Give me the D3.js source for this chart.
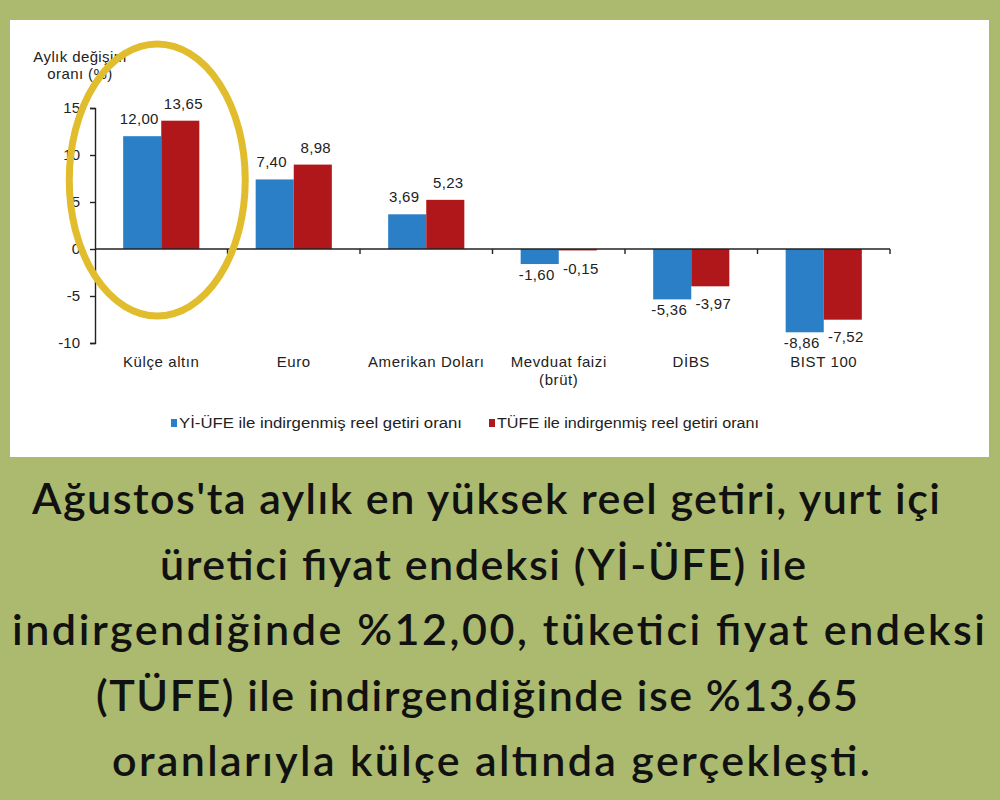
<!DOCTYPE html>
<html>
<head>
<meta charset="utf-8">
<script src="https://cdn.jsdelivr.net/npm/d3@7"></script>
<style>
  body { margin: 0; background: #abba6e; }
  svg { display: block; }
</style>
</head>
<body>
<svg id="chart" width="1000" height="800"></svg>
<script>
// data
var categories = ["Külçe altın", "Euro", "Amerikan Doları", "Mevduat faizi\n(brüt)", "DİBS", "BIST 100"];
var yiufe = [12.00, 7.40, 3.69, -1.60, -5.36, -8.86];
var tufe  = [13.65, 8.98, 5.23, -0.15, -3.97, -7.52];
var seriesNames = ["Yİ-ÜFE ile indirgenmiş reel getiri oranı", "TÜFE ile indirgenmiş reel getiri oranı"];
var yTicks = [-10, -5, 0, 5, 10, 15];
var captionLines = [
  "Ağustos'ta aylık en yüksek reel getiri, yurt içi",
  "üretici fiyat endeksi (Yİ-ÜFE) ile",
  "indirgendiğinde %12,00, tüketici fiyat endeksi",
  "(TÜFE) ile indirgendiğinde ise %13,65",
  "oranlarıyla külçe altında gerçekleşti."
];

var colors = ["#2a7fc7", "#b0171b"];
var fmt = function(v) { return v.toFixed(2).replace(".", ","); };
var FONT = "'Liberation Sans', Arial, sans-serif";

var svg = d3.select("#chart");

//
// white panel
//
svg.append("rect")
  .attr("x", 10).attr("y", 20)
  .attr("width", 979).attr("height", 437)
  .attr("fill", "#fff");

var chart = svg.append("g")
  .attr("font-family", FONT)
  .attr("font-size", 15)
  .attr("fill", "#222");

var x = d3.scaleBand()
  .domain(d3.range(categories.length))
  .range([95, 890])
  .paddingInner(0).paddingOuter(0);

var inner = d3.scaleBand()
  .domain([0, 1])
  .range([0, x.bandwidth()])
  .paddingInner(0)
  .paddingOuter(0.74);

var y = d3.scaleLinear()
  .domain([-10, 15])
  .range([343, 108]);

//
// bars
//
var groups = chart.selectAll("g.grp")
  .data(categories)
  .enter().append("g")
  .attr("class", "grp")
  .attr("transform", function(d, i) { return "translate(" + x(i) + ",0)"; });

var rows = categories.map(function(c, i) {
  return [{ s: 0, i: i, v: yiufe[i] }, { s: 1, i: i, v: tufe[i] }];
});

groups.selectAll("rect")
  .data(function(d, i) { return rows[i]; })
  .enter().append("rect")
  .attr("x", function(d) { return inner(d.s); })
  .attr("width", inner.bandwidth())
  .attr("y", function(d) { return y(Math.max(0, d.v)); })
  .attr("height", function(d) { return Math.abs(y(d.v) - y(0)); })
  .attr("fill", function(d) { return colors[d.s]; });

// value labels (negative red labels sit near the blue one, like the original)
function labelY(d) {
  if (d.v >= 0) return y(d.v) - 12;
  var own = y(d.v) + 16;
  if (d.s === 1) {
    var blue = y(yiufe[d.i]) + 16;
    return Math.max(own, blue - 6);
  }
  return own;
}

groups.selectAll("text.val")
  .data(function(d, i) { return rows[i]; })
  .enter().append("text")
  .attr("class", "val")
  .attr("text-anchor", "middle")
  .attr("letter-spacing", 0.3)
  .attr("x", function(d) { return inner(d.s) + inner.bandwidth() / 2 + (d.s === 0 ? -3 : 3); })
  .attr("y", labelY)
  .text(function(d) { return fmt(d.v); });

//
// axes
//
var yAxis = chart.append("g")
  .attr("transform", "translate(95,0)")
  .call(d3.axisLeft(y).tickValues(yTicks).tickSize(5).tickPadding(10).tickFormat(d3.format("d")));
yAxis.select(".domain").attr("stroke", "#222").attr("stroke-width", 1.4);
yAxis.selectAll(".tick line").attr("stroke", "#222").attr("stroke-width", 1.4);
yAxis.selectAll("text")
  .attr("font-family", FONT)
  .attr("font-size", 15)
  .attr("fill", "#222")
  .text(function(d) { return String(d); });

var xTicks = d3.range(categories.length + 1).map(function(i) { return 95 + i * x.step(); });
chart.append("line")
  .attr("x1", 95).attr("x2", 890)
  .attr("y1", y(0)).attr("y2", y(0))
  .attr("stroke", "#222").attr("stroke-width", 1.4);
chart.selectAll("line.xt")
  .data(xTicks.slice(1))
  .enter().append("line")
  .attr("class", "xt")
  .attr("x1", function(d) { return d; }).attr("x2", function(d) { return d; })
  .attr("y1", y(0)).attr("y2", y(0) + 5)
  .attr("stroke", "#222").attr("stroke-width", 1.4);

// category labels
chart.selectAll("text.cat")
  .data(categories)
  .enter().append("text")
  .attr("class", "cat")
  .attr("text-anchor", "middle")
  .attr("letter-spacing", 0.6)
  .attr("x", function(d, i) { return x(i) + x.bandwidth() / 2; })
  .attr("y", 367)
  .each(function(d) {
    var t = d3.select(this);
    d.split("\n").forEach(function(line, k) {
      t.append("tspan")
        .attr("x", t.attr("x"))
        .attr("dy", k === 0 ? 0 : 18)
        .text(line);
    });
  });

// y axis title
var title = chart.append("text")
  .attr("text-anchor", "middle")
  .attr("letter-spacing", 0.4)
  .attr("x", 80).attr("y", 62);
title.append("tspan").attr("x", 80).text("Aylık değişim");
title.append("tspan").attr("x", 80).attr("dy", 17).text("oranı (%)");

//
// legend
//
var legendX = [171, 489];
var legendW = [283, 262];
var legend = chart.selectAll("g.leg")
  .data(seriesNames)
  .enter().append("g")
  .attr("class", "leg")
  .attr("transform", function(d, i) { return "translate(" + legendX[i] + ",428)"; });
legend.append("rect")
  .attr("x", 0).attr("y", -9)
  .attr("width", 6).attr("height", 8)
  .attr("fill", function(d, i) { return colors[i]; });
legend.append("text")
  .attr("x", 8).attr("y", 0)
  .attr("font-size", 14)
  .attr("textLength", function(d, i) { return legendW[i]; })
  .attr("lengthAdjust", "spacingAndGlyphs")
  .text(function(d) { return d; });

//
// highlight ellipse
//
svg.append("ellipse")
  .attr("cx", x(0) + x.bandwidth() / 2 - 4)
  .attr("cy", 180)
  .attr("rx", 88).attr("ry", 136)
  .attr("fill", "none")
  .attr("stroke", "#e1bc2c")
  .attr("stroke-width", 7);

//
// caption
//
var capX = [32, 160, 12, 96, 112];
var capW = [908, 646, 973, 762, 758];
svg.append("g")
  .attr("font-family", "Lato, 'Noto Sans', sans-serif")
  .attr("font-weight", 600)
  .attr("font-size", 43)
  .attr("fill", "#111")
  .selectAll("text")
  .data(captionLines)
  .enter().append("text")
  .attr("x", function(d, i) { return capX[i]; })
  .attr("y", function(d, i) { return 514 + i * 65.5; })
  .attr("textLength", function(d, i) { return capW[i]; })
  .attr("lengthAdjust", "spacing")
  .text(function(d) { return d; });
</script>
</body>
</html>
